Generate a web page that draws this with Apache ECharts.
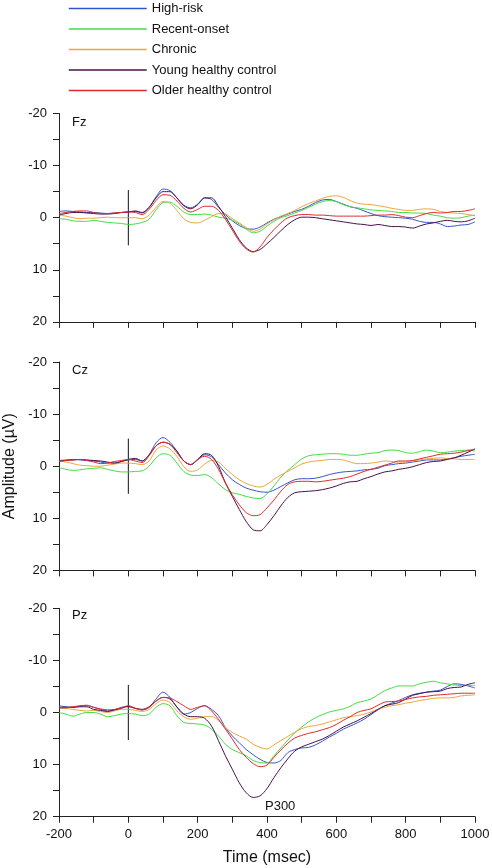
<!DOCTYPE html>
<html>
<head>
<meta charset="utf-8">
<script src="https://cdn.jsdelivr.net/npm/echarts@6/dist/echarts.min.js"></script>
<style>
html,body{margin:0;padding:0;background:#fff;}
#chart{width:492px;height:868px;}
</style>
</head>
<body>
<div id="chart"></div>
<script>
// ---- DATA ----
const time = [-200,-180,-160,-140,-120,-100,-80,-60,-40,-20,0,20,40,60,80,100,120,140,160,180,200,220,240,260,280,300,320,340,360,380,400,420,440,460,480,500,520,540,560,580,600,620,640,660,680,700,720,740,760,780,800,820,840,860,880,900,920,940,960,980,1000];
const groups = ['High-risk','Recent-onset','Chronic','Young healthy control','Older healthy control'];
const panels = ['Fz','Cz','Pz'];
const xTicks = [-200,0,200,400,600,800,1000];
const yTicks = [-20,-10,0,10,20];
const stimulusTime = [0, 0];
const stimulusAmp = [-5.3, 5.3];
const p300Label = {text:'P300', time:438, amp:18.1};

const fzHighRisk = [-1.2,-1.3,-1.2,-1.1,-1.0,-1.0,-0.9,-0.8,-0.9,-1.0, -1.1,-1.2,-0.9,-2.0,-4.0,-5.5,-5.2,-3.8,-2.4,-1.9, -2.6,-3.8,-3.5,-2.0,-0.6,0.6,1.5,2.1,2.2,1.8, 1.0,0.3,-0.2,-0.7,-1.2,-1.6,-2.2,-2.9,-3.4,-3.5, -3.1,-2.6,-2.1,-1.8,-1.3,-0.8,-0.4,-0.2,-0.1,0.0, 0.1,0.3,0.7,0.9,0.9,1.2,1.7,1.6,1.4,1.3, 0.8];
const fzRecent = [0.2,0.3,0.6,0.7,0.7,0.5,0.7,0.9,1.0,1.1, 1.3,1.2,0.9,0.3,-1.5,-2.9,-3.0,-2.2,-1.1,-0.6, -0.6,-0.7,-0.5,-0.1,0.1,0.5,1.2,2.2,2.9,2.6, 1.6,0.7,0.0,-0.4,-0.9,-1.4,-2.0,-2.6,-3.1,-3.3, -3.1,-2.5,-2.1,-1.9,-1.7,-1.5,-1.4,-1.3,-1.2,-1.0, -1.0,-0.9,-0.9,-0.8,-0.5,-0.3,0.0,0.1,0.0,-0.3, -0.5];
const fzChronic = [-0.5,-0.3,0.0,0.2,0.1,0.1,0.0,-0.1,0.0,0.0, 0.0,0.0,0.2,-0.5,-2.0,-3.1,-2.8,-1.4,0.2,0.9, 1.0,0.5,-0.2,-0.8,-0.7,0.2,1.0,1.9,2.6,2.2, 1.2,0.4,-0.3,-0.8,-1.4,-2.1,-2.7,-3.2,-3.7,-4.1, -4.2,-3.9,-3.3,-2.8,-2.6,-2.5,-2.3,-2.1,-1.8,-1.6, -1.4,-1.4,-1.6,-1.7,-1.6,-1.2,-1.0,-0.9,-0.8,-0.6, -0.4];
const fzYoung = [-0.5,-0.8,-1.0,-1.0,-0.9,-0.8,-0.7,-0.7,-0.8,-1.0, -1.1,-1.3,-1.0,-2.0,-3.8,-5.0,-5.0,-3.8,-2.3,-1.7, -2.5,-3.8,-3.8,-2.2,-0.2,2.0,4.2,5.8,6.5,6.1, 5.0,3.8,2.5,1.3,0.4,-0.1,-0.1,0.0,0.2,0.4, 0.6,0.8,1.0,1.2,1.3,1.5,1.3,1.5,1.7,1.7, 1.8,2.0,1.6,1.2,1.0,0.7,0.5,0.7,0.8,0.6, 0.1];
const fzOlder = [-0.8,-1.0,-1.2,-1.3,-1.3,-1.0,-0.8,-0.8,-0.9,-1.0, -1.1,-1.0,-0.6,-1.6,-3.3,-4.4,-4.3,-3.2,-1.8,-1.1, -1.6,-2.2,-2.2,-1.4,0.3,2.4,4.5,6.0,6.6,5.6, 3.8,2.3,1.0,0.0,-0.4,-0.6,-0.6,-0.5,-0.5,-0.4, -0.3,-0.3,-0.3,-0.3,-0.3,-0.4,-0.5,-0.5,-0.6,-0.4, -0.1,0.0,-0.4,-0.8,-1.0,-0.9,-1.0,-1.2,-1.2,-1.4, -1.7];

const czHighRisk = [-1.1,-1.2,-1.3,-1.2,-1.1,-1.0,-0.8,-0.6,-0.6,-0.9, -1.2,-1.3,-1.0,-2.2,-4.5,-5.5,-4.6,-2.9,-1.0,-0.3, -1.2,-2.2,-1.8,-0.3,1.3,2.6,3.5,4.2,4.6,4.9, 5.0,4.6,3.9,3.2,2.6,2.4,2.4,2.3,2.0,1.6, 1.3,1.1,1.0,0.9,0.7,0.6,0.4,-0.1,-0.3,-0.5, -0.6,-0.8,-1.0,-1.2,-1.2,-1.2,-1.4,-1.6,-1.9,-2.1, -2.3];
const czRecent = [0.3,0.6,0.8,0.7,0.5,0.4,0.3,0.6,0.9,1.1, 1.1,1.0,0.9,0.0,-1.6,-2.4,-2.1,-0.6,1.0,1.7, 1.8,1.6,2.2,3.4,4.5,5.1,5.4,5.8,6.1,6.2, 5.3,3.8,2.1,0.8,-0.3,-1.4,-2.0,-2.2,-2.3,-2.4, -2.4,-2.3,-2.1,-2.1,-2.3,-2.5,-2.6,-3.0,-3.1,-3.0, -2.6,-2.5,-2.8,-3.1,-2.9,-2.6,-2.7,-2.9,-3.0,-3.1, -2.9];
const czChronic = [-1.0,-0.8,-0.5,-0.2,-0.1,0.0,0.0,-0.2,-0.4,-0.6, -0.6,-0.5,-0.3,-1.0,-3.1,-3.9,-3.3,-1.9,0.1,1.0, 0.7,-0.4,-1.1,-0.8,0.4,1.6,2.6,3.3,3.8,4.0, 3.5,2.5,1.7,1.0,0.3,-0.4,-0.8,-1.0,-1.1,-1.3, -1.3,-1.2,-0.8,-0.5,-0.5,-0.6,-0.8,-1.0,-0.9,-0.8, -0.8,-1.0,-1.2,-1.4,-1.5,-1.6,-1.5,-1.4,-1.3,-1.3, -1.3];
const czYoung = [-1.0,-1.1,-1.2,-1.3,-1.2,-1.1,-1.0,-0.8,-0.6,-0.9, -1.3,-1.5,-1.0,-2.2,-3.9,-4.6,-4.2,-2.9,-1.0,-0.3, -1.3,-2.4,-2.1,0.0,3.2,5.8,8.3,10.6,12.2,12.4, 11.2,9.5,7.6,6.0,5.1,4.9,4.8,4.7,4.5,4.2, 3.8,3.3,3.0,2.9,2.4,2.0,1.5,1.1,0.9,0.6, 0.4,0.1,-0.3,-0.7,-0.9,-1.0,-1.3,-1.6,-2.1,-2.7, -3.3];
const czOlder = [-0.9,-1.1,-1.2,-1.3,-1.1,-0.8,-0.5,-0.6,-0.9,-1.1, -1.3,-1.0,-0.7,-2.0,-3.9,-4.6,-4.2,-2.6,-1.0,-0.3, -1.3,-1.9,-1.3,0.6,3.2,5.5,7.4,8.9,9.5,9.3, 8.0,6.5,4.8,3.5,3.0,2.9,2.9,3.0,2.9,2.7, 2.5,2.3,2.0,1.5,1.0,0.6,0.2,-0.2,-0.6,-1.0, -1.0,-1.1,-1.4,-1.7,-2.0,-2.3,-2.4,-2.5,-2.7,-3.0, -3.3];

const pzHighRisk = [-1.3,-1.1,-1.0,-1.2,-1.3,-1.0,-0.6,-0.3,-0.5,-1.0, -1.1,-0.8,-0.5,-1.0,-2.6,-3.9,-2.9,-1.0,0.3,0.0, -0.8,-1.3,-0.6,0.6,2.9,4.5,5.8,7.1,8.1,9.0, 9.6,9.7,9.2,7.7,7.1,6.8,6.7,6.2,5.5,4.7, 4.0,3.2,2.6,2.0,1.3,0.4,-0.5,-1.3,-1.8,-2.3, -2.9,-3.4,-3.7,-3.9,-4.1,-4.3,-5.0,-5.5,-5.4,-5.1, -4.7];
const pzRecent = [0.0,0.3,0.7,0.3,0.0,0.0,0.3,0.8,0.6,0.3, 0.2,0.3,0.6,0.3,-1.0,-1.7,-1.3,0.6,1.9,2.1, 2.2,2.4,3.2,4.5,6.1,7.1,7.7,8.3,9.2,9.6, 9.7,8.3,6.8,5.3,3.9,2.8,1.8,1.0,0.4,-0.1, -0.4,-0.7,-1.2,-1.9,-2.2,-2.6,-3.4,-4.2,-4.7,-5.1, -5.1,-5.1,-5.5,-5.8,-6.0,-5.7,-5.5,-5.3,-5.2,-5.2, -5.2];
const pzChronic = [-1.0,-0.8,-0.6,-0.4,-0.3,-0.4,-0.2,0.0,-0.3,-0.6, -0.6,-0.4,-0.2,-0.6,-1.7,-2.4,-1.9,-0.3,0.8,1.3, 1.1,0.8,0.8,1.5,2.9,3.8,4.5,5.1,6.1,6.7, 7.0,6.2,5.4,4.6,3.8,3.1,2.7,2.5,2.2,1.8, 1.4,1.0,0.8,0.6,0.3,-0.1,-0.6,-1.0,-1.3,-1.5, -1.8,-2.0,-2.3,-2.5,-2.7,-2.8,-2.8,-2.9,-3.2,-3.3, -3.4];
const pzYoung = [-1.0,-1.0,-1.0,-1.1,-1.1,-0.6,-0.4,-0.2,-0.5,-0.8, -1.2,-0.8,-0.6,-1.1,-2.2,-2.9,-2.6,-1.1,0.3,0.8, 0.8,1.1,2.6,5.4,8.3,10.9,13.5,15.4,16.3,16.0, 14.6,12.5,10.6,8.9,7.4,6.6,6.1,5.6,5.1,4.4, 3.6,2.8,2.2,1.6,0.9,0.2,-0.6,-1.3,-1.6,-1.9, -2.6,-3.3,-3.6,-3.9,-4.0,-4.1,-4.6,-4.8,-4.9,-5.4, -5.7];
const pzOlder = [-0.8,-0.9,-1.1,-1.3,-1.4,-1.0,-0.7,-0.5,-0.6,-0.9, -1.3,-0.8,-0.5,-1.0,-2.2,-2.9,-2.8,-2.1,-1.3,-0.6, -1.0,-1.3,-0.3,1.3,3.2,5.1,7.1,8.6,9.8,10.4, 10.1,8.6,7.2,5.9,4.9,4.4,4.0,3.7,3.3,2.9, 2.3,1.5,0.8,0.0,-0.4,-0.7,-1.4,-2.0,-2.1,-2.2, -2.5,-2.8,-3.0,-3.1,-3.3,-3.4,-3.5,-3.6,-3.7,-3.7, -3.7];

// ---- STYLE / LAYOUT ----
const panelData = [
  [fzHighRisk, fzRecent, fzChronic, fzYoung, fzOlder],
  [czHighRisk, czRecent, czChronic, czYoung, czOlder],
  [pzHighRisk, pzRecent, pzChronic, pzYoung, pzOlder]
];
const colors = ['#3355cc', '#44dd44', '#f0a53c', '#4a1048', '#e02a2a'];
const FONT = 'Liberation Sans, Arial, Helvetica, sans-serif';
const gridTops = [113.5, 362, 608.3];
const gridH = 208.4;
const labelTops = [116, 364, 608.5];

const chart = echarts.init(document.getElementById('chart'), null, {renderer: 'canvas'});

const grids = [], xAxes = [], yAxes = [], series = [], titles = [];
panels.forEach((p, i) => {
  grids.push({left: 59, width: 416, top: gridTops[i], height: gridH, containLabel: false, outerBoundsMode: 'none'});
  const isBottom = i === panels.length - 1;
  xAxes.push({
    type: 'value', gridIndex: i, min: -200, max: 1000, interval: 100,
    axisLine: {show: true, onZero: false, lineStyle: {color: '#222', width: 1}},
    axisTick: {show: true, inside: false, length: 6, lineStyle: {color: '#222'}},
    splitLine: {show: false},
    axisLabel: {
      show: isBottom, margin: 11, fontSize: 13, color: '#111', fontFamily: FONT,
      showMinLabel: true, showMaxLabel: true,
      formatter: v => xTicks.indexOf(v) >= 0 ? String(v) : ''
    },
    name: isBottom ? 'Time (msec)' : '',
    nameLocation: 'middle', nameGap: 33,
    nameTextStyle: {fontSize: 16, color: '#111', fontFamily: FONT}
  });
  yAxes.push({
    type: 'value', gridIndex: i, min: -20, max: 20, interval: 5, inverse: true,
    axisLine: {show: true, onZero: false, lineStyle: {color: '#222', width: 1}},
    axisTick: {show: true, inside: false, length: 6, lineStyle: {color: '#222'}},
    splitLine: {show: false},
    axisLabel: {
      margin: 12, fontSize: 13, color: '#111', fontFamily: FONT,
      formatter: v => yTicks.indexOf(v) >= 0 ? String(v) : ''
    },
    name: i === 1 ? 'Amplitude (\u00b5V)' : '',
    nameLocation: 'middle', nameGap: 40, nameRotate: 90,
    nameTextStyle: {fontSize: 16, color: '#111', fontFamily: FONT}
  });
  titles.push({
    text: p, left: 72, top: labelTops[i], padding: 0,
    textStyle: {fontSize: 13, fontWeight: 'normal', color: '#111', fontFamily: FONT}
  });
  // stimulus onset marker
  series.push({
    name: 'stimulus-' + p, type: 'line', xAxisIndex: i, yAxisIndex: i,
    data: stimulusTime.map((t, j) => [t, stimulusAmp[j]]),
    symbol: 'none', silent: true,
    lineStyle: {color: '#111', width: 1}, z: 1
  });
  groups.forEach((g, k) => {
    const s = {
      name: g, type: 'line', xAxisIndex: i, yAxisIndex: i,
      data: time.map((t, j) => [t, panelData[i][k][j]]),
      symbol: 'none', showSymbol: false, smooth: 0.3, silent: true,
      lineStyle: {color: colors[k], width: 1},
      itemStyle: {color: colors[k]},
      z: 2 + k
    };
    if (i === 2 && k === 3) {
      s.markPoint = {
        silent: true, symbol: 'circle', symbolSize: 1,
        itemStyle: {color: 'rgba(0,0,0,0)'},
        label: {show: true, position: 'inside', formatter: p300Label.text, fontSize: 13, color: '#111', fontFamily: FONT},
        data: [{coord: [p300Label.time, p300Label.amp]}]
      };
    }
    series.push(s);
  });
});

chart.setOption({
  animation: false,
  backgroundColor: '#fff',
  textStyle: {fontFamily: FONT},
  title: titles,
  legend: {
    data: groups, orient: 'vertical', left: 68, top: 2, padding: 0,
    itemWidth: 78, itemHeight: 14, itemGap: 7.5,
    itemStyle: {opacity: 0, borderWidth: 0},
    lineStyle: {width: 1.5, opacity: 1},
    textStyle: {fontSize: 13, color: '#111', fontFamily: FONT},
    selectedMode: false
  },
  grid: grids,
  xAxis: xAxes,
  yAxis: yAxes,
  series: series
});
</script>
</body>
</html>
